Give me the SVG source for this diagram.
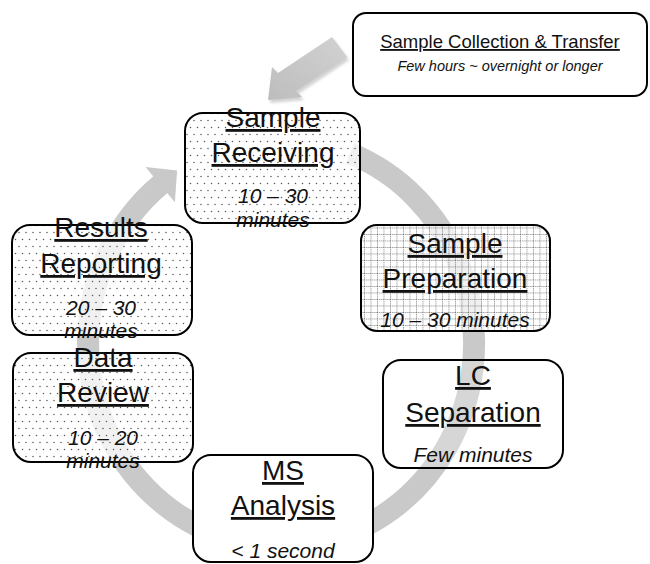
<svg xmlns="http://www.w3.org/2000/svg" width="650" height="564" viewBox="0 0 650 564">
<style>
.box{stroke:#000;stroke-width:2}
.t{font-family:"Liberation Sans",Arial,sans-serif;font-size:28px;fill:#111;text-anchor:middle;text-decoration:underline}
.s{font-family:"Liberation Sans",Arial,sans-serif;font-size:21px;font-style:italic;fill:#111;text-anchor:middle}
.band{fill:none;stroke:#c9c9c9;stroke-width:22}
</style>
<defs>
<pattern id="dots" width="7" height="14" patternUnits="userSpaceOnUse">
<rect width="7" height="14" fill="#fff" fill-opacity="0.75"/>
<circle cx="1.5" cy="1.5" r="0.75" fill="#555"/>
<circle cx="5" cy="8.5" r="0.75" fill="#555"/>
</pattern>
<pattern id="grid" width="6.5" height="6.5" patternUnits="userSpaceOnUse">
<rect width="6.5" height="6.5" fill="#fff" fill-opacity="0.72"/>
<path d="M0 0.5H6.5M0.5 0V6.5" stroke="#666" stroke-width="0.8" stroke-dasharray="1 1"/>
</pattern>
<linearGradient id="ag" x1="1" y1="0" x2="0" y2="1">
<stop offset="0" stop-color="#d2d2d2"/>
<stop offset="1" stop-color="#bdbdbd"/>
</linearGradient>
<filter id="sh" x="-20%" y="-20%" width="140%" height="140%">
<feGaussianBlur stdDeviation="1.5"/>
</filter>
</defs>
<g id="connectors">
<path class="band" d="M350 153.4 A193 203 0 1 1 161 184.1"/>
<polygon points="145.5,167.1 174.9,202.3 177.1,170.6" fill="#c9c9c9"/>
<polygon points="332,37 347,57 296,91 302,97 268,100 272,67 278,73" fill="#000" opacity="0.18" transform="translate(2,3)" filter="url(#sh)"/>
<polygon points="332,37 347,57 296,91 302,97 268,100 272,67 278,73" fill="url(#ag)"/>
</g>
<g id="sample-collection">
<rect class="box" x="353" y="13" width="294" height="83" rx="13" fill="#fff"/>
<text class="t" x="500" y="48" style="font-size:18.5px">Sample Collection &amp; Transfer</text>
<text class="s" x="500" y="71" style="font-size:14.5px">Few hours ~ overnight or longer</text>
</g>
<g id="sample-receiving">
<rect class="box" x="185" y="113" width="175" height="110" rx="18" fill="url(#dots)"/>
<text class="t" x="273" y="127">Sample</text>
<text class="t" x="273" y="162">Receiving</text>
<text class="s" x="273" y="203">10 – 30</text>
<text class="s" x="273" y="227">minutes</text>
</g>
<g id="sample-preparation">
<rect class="box" x="361" y="225" width="189" height="106" rx="16" fill="url(#grid)"/>
<text class="t" x="455" y="253">Sample</text>
<text class="t" x="455" y="288">Preparation</text>
<text class="s" x="455" y="327">10 – 30 minutes</text>
</g>
<g id="lc-separation">
<rect class="box" x="383" y="360" width="180" height="108" rx="18" fill="#fff" fill-opacity="0.25"/>
<text class="t" x="473" y="385">LC</text>
<text class="t" x="473" y="422">Separation</text>
<text class="s" x="473" y="462">Few minutes</text>
</g>
<g id="ms-analysis">
<rect class="box" x="193" y="455" width="180" height="107" rx="18" fill="#fff"/>
<text class="t" x="283" y="480">MS</text>
<text class="t" x="283" y="515">Analysis</text>
<text class="s" x="283" y="558">&lt; 1 second</text>
</g>
<g id="data-review">
<rect class="box" x="13" y="353" width="180" height="109" rx="18" fill="url(#dots)"/>
<text class="t" x="103" y="367">Data</text>
<text class="t" x="103" y="402">Review</text>
<text class="s" x="103" y="445">10 – 20</text>
<text class="s" x="103" y="468">minutes</text>
</g>
<g id="results-reporting">
<rect class="box" x="12" y="225" width="180" height="110" rx="18" fill="url(#dots)"/>
<text class="t" x="101" y="237">Results</text>
<text class="t" x="101" y="273">Reporting</text>
<text class="s" x="101" y="315">20 – 30</text>
<text class="s" x="101" y="338">minutes</text>
</g>
</svg>
